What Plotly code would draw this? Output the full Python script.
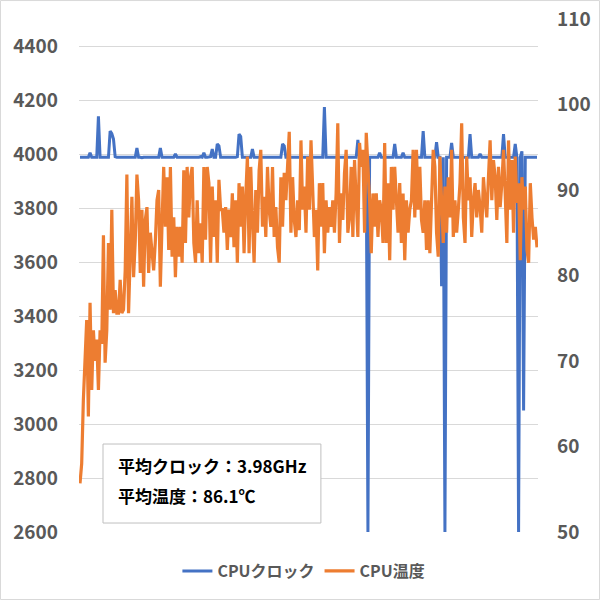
import plotly.graph_objects as go

# CPU temperature (°C), one sample per step
cpu_temp = [
    55.7, 58.0, 65.4, 70.5, 74.8, 63.5, 76.8, 66.6, 73.6, 70.0,
    72.5, 66.6, 73.6, 72.0, 84.7, 69.8, 73.6, 83.8, 76.0, 87.7,
    75.6, 78.3, 75.6, 75.6, 79.5, 75.6, 76.0, 80.6, 91.8, 75.6,
    81.8, 89.2, 79.8, 84.0, 91.8, 88.8, 80.3, 87.7, 78.7, 86.5,
    88.0, 80.3, 85.0, 83.0, 80.6, 84.0, 88.8, 90.0, 78.7, 86.0,
    92.7, 85.7, 91.5, 83.0,
    92.7, 82.2, 86.8, 79.8, 85.7, 82.2, 85.7, 81.5, 92.3, 83.8,
    92.7, 86.8, 91.5, 92.7, 83.8, 81.5, 88.8, 82.6, 86.1, 81.5,
    92.7, 84.2, 92.7, 90.8, 81.5, 90.4, 84.5, 88.8, 81.5, 91.2,
    87.7, 87.7, 85.0, 88.0, 83.0, 87.7, 84.5, 89.6, 83.3, 88.8,
    81.5, 90.8, 85.7, 90.4, 82.6, 89.2, 93.9, 82.6, 92.7, 86.5,
    81.5, 90.0, 85.0, 92.3, 94.7,
    85.7, 89.2, 84.5, 92.7, 87.7, 85.7, 92.7, 84.5, 88.0, 83.3,
    81.5, 91.5, 85.7, 92.0, 88.8, 93.2, 96.8, 85.0, 91.5, 86.5,
    84.5, 88.8, 85.3, 95.8, 87.7, 90.4, 85.0, 93.9, 87.7, 95.8,
    88.8, 84.5, 87.7, 80.6, 90.8, 85.7, 90.8, 82.6, 88.8, 85.0,
    88.0, 85.7, 88.8, 85.0, 89.6, 97.8, 83.8, 89.6, 86.5, 92.0,
    94.7, 85.0, 86.8, 92.7,
    84.5, 93.5, 88.8, 84.5, 95.5, 92.7, 94.7, 85.0, 96.7, 92.7,
    88.8, 82.6, 89.6, 85.7, 89.6, 84.5, 88.8, 87.7, 83.8, 95.5,
    83.8, 90.8, 81.8, 92.7, 87.7, 92.7, 88.8, 85.0, 90.8, 83.8,
    89.6, 81.8, 88.8, 85.0, 87.7, 88.8, 94.7, 86.8, 94.7, 87.7,
    92.7, 86.5, 85.0, 88.8, 83.0, 88.8, 82.6, 89.6, 94.7, 92.7,
    85.0, 82.2, 93.9, 88.8,
    83.8, 90.4, 85.0, 91.5, 86.8, 94.7, 84.5, 88.8, 85.0, 87.7,
    90.8, 97.8, 86.8, 83.8, 93.9, 88.8, 91.5, 84.5, 88.8, 90.8,
    86.8, 90.0, 88.0, 85.0, 91.5, 88.8, 86.8, 91.5, 95.8, 88.8,
    93.5, 91.5, 86.5, 92.7, 88.0, 90.8, 94.7, 89.6, 83.8, 95.8,
    87.7, 93.5, 85.0, 93.9, 88.5, 90.8, 81.8, 91.5, 87.7, 90.4,
    83.0, 81.5, 90.8, 86.8, 84.2, 85.7, 83.3,
]

# CPU clock (MHz), same samples
cpu_clock = [
    3988, 3988, 3988, 3988, 3988, 3988, 4005, 3988, 3988, 3988,
    3988, 4140, 3988, 3988, 3988, 3988, 3988, 3988, 4085, 4075,
    4055, 3990, 3988, 3988, 3986, 3988, 3988, 3988, 3986, 3988,
    3988, 3988, 3988, 3988, 4022, 3988, 3988, 3986, 3988, 3988,
    3988, 3986, 3988, 3988, 3988, 3988, 3986, 3988, 4022, 3988,
    3988, 3988, 3986, 3988, 3988, 3988, 3988, 4000, 3988, 3988,
    3988, 3986, 3988, 3988, 3988, 3988, 3986, 3988, 3988, 3988,
    3988, 3988, 3990, 3988, 4005, 3988, 3988, 3988, 3990, 4018,
    3988, 3988, 4037, 4030, 3988, 3988, 3988, 3986, 3988, 3988,
    3988, 3988, 3988, 3988, 3990, 4074, 4065, 3988, 3988, 3988,
    3988, 3986, 3988, 4018, 3988, 3988, 3988, 3988, 3986, 3988,
    3988, 3988, 3988, 3988, 3988, 3986, 3988, 3988, 3988, 3988,
    3988, 4037, 4030, 3988, 3988, 3988, 3986, 3988, 3988, 3988,
    3988, 3988, 3988, 3986, 3988, 3988, 3988, 3988, 3988, 3988,
    3986, 3988, 3988, 3988, 3988, 3988, 4174, 3988, 3988, 3988,
    3988, 3988, 3986, 3988, 3988, 3988, 3988, 3988, 3988, 3986,
    3988, 3988, 3988, 3988, 3988, 3988, 4052, 3988, 3988, 3988,
    3988, 3988, 2600, 3988, 3988, 3988, 3988, 3988, 3988, 4005,
    3988, 3988, 3988, 3986, 3988, 3988, 3988, 3988, 4037, 3988,
    3988, 3988, 3988, 4005, 3988, 3988, 3988, 3986, 3988, 3988,
    3988, 3988, 3988, 3988, 3988, 4085, 3988, 3988, 3988, 3988,
    3988, 3988, 3988, 4044, 3988, 3988, 3510, 3988, 2600, 3988,
    3988, 3988, 4041, 3988, 3988, 3988, 3988, 3986, 3988, 3988,
    3988, 3988, 3988, 4074, 3988, 3988, 3988, 3988, 3988, 4000,
    3988, 3988, 3988, 3986, 3988, 3988, 3988, 3988, 3988, 3988,
    3988, 3988, 3988, 4074, 3988, 3988, 3988, 3988, 3988, 3988,
    4037, 3988, 2600, 3988, 4010, 3050, 3988, 3988, 3988, 3988,
    3988, 3988, 3988, 3988, 3988,
]

samples = list(range(len(cpu_temp)))

clock_ticks = [2600, 2800, 3000, 3200, 3400, 3600, 3800, 4000, 4200, 4400]
temp_ticks = [50, 60, 70, 80, 90, 100, 110]

series_names = ["CPUクロック", "CPU温度"]
note_lines = ["平均クロック：3.98GHz", "平均温度：86.1℃"]

FONT = "Noto Sans CJK JP"
GRAY = "#595959"

fig = go.Figure()
fig.add_trace(go.Scatter(
    x=samples, y=cpu_clock, name=series_names[0], mode="lines",
    line=dict(color="#4472C4", width=3), yaxis="y",
))
fig.add_trace(go.Scatter(
    x=samples, y=cpu_temp, name=series_names[1], mode="lines",
    line=dict(color="#ED7D31", width=3.2), yaxis="y2",
))

tickfont = dict(family=FONT, size=19, color=GRAY, weight="bold")

fig.update_layout(
    width=600, height=600,
    margin=dict(l=79, r=62, t=19, b=68, autoexpand=False),
    paper_bgcolor="white", plot_bgcolor="white",
    showlegend=True,
    legend=dict(orientation="h", x=0.49, xanchor="center", y=-0.076, yanchor="middle",
                font=dict(family=FONT, size=16, color=GRAY, weight="bold"),
                itemwidth=30, tracegroupgap=0),
    xaxis=dict(range=[-0.6, len(cpu_temp) - 0.4], showgrid=False, zeroline=False,
               showticklabels=False, ticks="", showline=False, automargin=False),
    yaxis=dict(range=[2600, 4500], tickvals=clock_ticks, showgrid=True,
               gridcolor="#d9d9d9", gridwidth=1, zeroline=False, showline=False,
               ticks="", tickfont=tickfont, ticklabelstandoff=20, automargin=False),
    yaxis2=dict(range=[50, 110], tickvals=temp_ticks, overlaying="y", side="right",
                showgrid=False, zeroline=False, showline=False, ticks="",
                tickfont=tickfont, ticklabelstandoff=18, automargin=False),
    shapes=[
        dict(type="rect", xref="paper", yref="paper",
             x0=-0.171, x1=1.134, y0=-0.1316, y1=1.036,
             line=dict(color="#d9d9d9", width=1), fillcolor="rgba(0,0,0,0)", layer="below"),
        dict(type="rect", xref="paper", yref="paper",
             x0=0.0523, x1=0.527, y0=0.0175, y1=0.1715,
             line=dict(color="#bfbfbf", width=1), fillcolor="white", layer="above"),
    ],
    annotations=[
        dict(text=note_lines[0], xref="paper", yref="paper", x=0.0806, y=0.1306,
             xanchor="left", yanchor="middle", showarrow=False,
             font=dict(family=FONT, size=17, color="black", weight="bold")),
        dict(text=note_lines[1], xref="paper", yref="paper", x=0.0806, y=0.0721,
             xanchor="left", yanchor="middle", showarrow=False,
             font=dict(family=FONT, size=17, color="black", weight="bold")),
    ],
)

fig.write_html("out.html", config={"displayModeBar": False},
               post_script="document.body.style.margin='0';")
